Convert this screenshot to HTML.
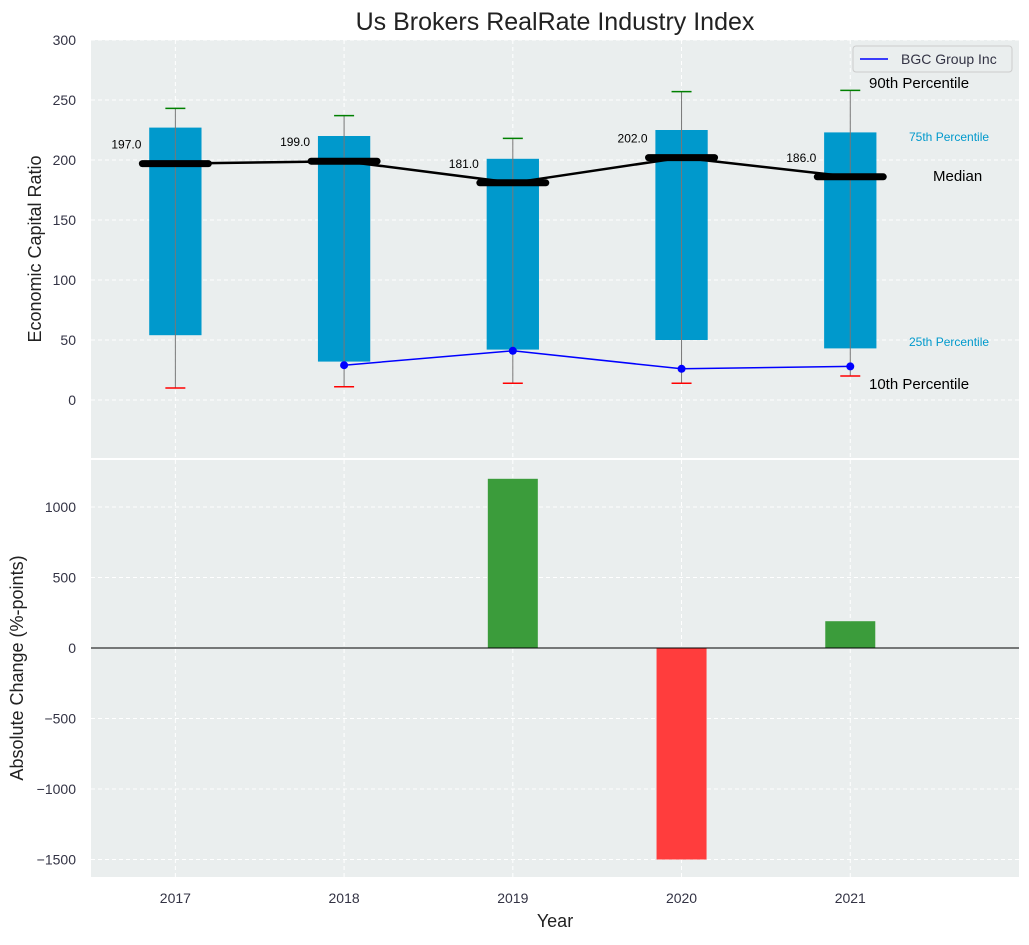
<!DOCTYPE html>
<html><head><meta charset="utf-8"><style>
body{margin:0;background:#fff;font-family:"Liberation Sans",sans-serif}
</style></head><body>
<svg id="c" width="1029" height="940" xmlns="http://www.w3.org/2000/svg" font-family="Liberation Sans, sans-serif"></svg>
<script>
const years=[2017,2018,2019,2020,2021];
const p10=[10,11,14,14,20];
const p25=[54,32,42,50,43];
const p75=[227,220,201,225,223];
const p90=[243,237,218,257,258];
const median=[197,199,181,202,186];
const bgcYears=[2018,2019,2020,2021];
const bgc=[29,41,26,28];
const changes=[0,0,1200,-1500,190];
const topTicks=[0,50,100,150,200,250,300];
const botTicks=[-1500,-1000,-500,0,500,1000];

const NS="http://www.w3.org/2000/svg";
const svg=document.getElementById('c');
function el(t,a,txt){const e=document.createElementNS(NS,t);for(const k in a)e.setAttribute(k,a[k]);if(txt!==undefined)e.textContent=txt;svg.appendChild(e);return e;}
const L=91,R=1019;
const x=v=>L+(v-2016.5)/(5.5)*(R-L);
const T0=40,T1=458; const yT=v=>400-v*1.2;
const B0=460,B1=877; const yB=v=>648-v*0.141;
const TC='#334';

let e;
e=el('rect',{x:L,y:T0,width:R-L,height:T1-T0,fill:'#eaeeee'});

e=el('rect',{x:L,y:B0,width:R-L,height:B1-B0,fill:'#eaeeee'});

years.forEach(yr=>{
 e=el('line',{x1:x(yr),x2:x(yr),y1:T0,y2:T1,stroke:'#fff','stroke-dasharray':'4,3'});
 
 e=el('line',{x1:x(yr),x2:x(yr),y1:B0,y2:B1,stroke:'#fff','stroke-dasharray':'4,3'});
 
 e=el('text',{x:x(yr),y:903,'text-anchor':'middle','font-size':14,fill:TC},yr);
 
});
topTicks.forEach(t=>{
 e=el('line',{x1:L,x2:R,y1:yT(t),y2:yT(t),stroke:'#fff','stroke-dasharray':'4,3'});
 
 e=el('text',{x:76,y:yT(t)+5,'text-anchor':'end','font-size':14,fill:TC},t);
 
});
botTicks.forEach(t=>{
 e=el('line',{x1:L,x2:R,y1:yB(t),y2:yB(t),stroke:'#fff','stroke-dasharray':'4,3'});
 
 e=el('text',{x:76,y:yB(t)+5,'text-anchor':'end','font-size':14,fill:TC},t<0?'\u2212'+(-t):t);
 
});
const bw=(R-L)/5.5*0.31;
years.forEach((yr,i)=>{
 const cx=x(yr);
 e=el('rect',{x:cx-bw/2,y:yT(p75[i]),width:bw,height:yT(p25[i])-yT(p75[i]),fill:'#0099cc'});
 
 e=el('line',{x1:cx,x2:cx,y1:yT(p90[i]),y2:yT(p10[i]),stroke:'#777','stroke-width':1});
 
 e=el('line',{x1:cx-10,x2:cx+10,y1:yT(p90[i]),y2:yT(p90[i]),stroke:'green','stroke-width':1.5});
 
 e=el('line',{x1:cx-10,x2:cx+10,y1:yT(p10[i]),y2:yT(p10[i]),stroke:'red','stroke-width':1.5});
 
});
e=el('polyline',{points:years.map((yr,i)=>x(yr)+','+yT(median[i])).join(' '),fill:'none',stroke:'#000','stroke-width':2.5});

years.forEach((yr,i)=>{
 const cx=x(yr);
 e=el('line',{x1:cx-33,x2:cx+33,y1:yT(median[i]),y2:yT(median[i]),stroke:'#000','stroke-width':7,'stroke-linecap':'round'});
 
 e=el('text',{x:cx-49,y:yT(median[i])-15,'text-anchor':'middle','font-size':12,fill:'#000'},median[i].toFixed(1));
 
});
e=el('polyline',{points:bgcYears.map((yr,i)=>x(yr)+','+yT(bgc[i])).join(' '),fill:'none',stroke:'blue','stroke-width':1.5});

bgcYears.forEach((yr,i)=>{
 e=el('circle',{cx:x(yr),cy:yT(bgc[i]),r:4,fill:'blue'});
 
});
const ann=[['90th Percentile',869,88,15,'#000'],['75th Percentile',909,141,12,'#0099cc'],['Median',933,181,15,'#000'],['25th Percentile',909,346,12,'#0099cc'],['10th Percentile',869,389,15,'#000']];
ann.forEach(a=>{e=el('text',{x:a[1],y:a[2],'font-size':a[3],fill:a[4]},a[0]);
 });
e=el('rect',{x:853,y:46,width:159,height:26,fill:'#eaeeee',stroke:'#ccc',rx:3});

e=el('line',{x1:860,x2:888,y1:59,y2:59,stroke:'blue','stroke-width':1.5});

e=el('text',{x:901,y:64,'font-size':14,fill:TC},'BGC Group Inc');

years.forEach((yr,i)=>{
 const v=changes[i]; if(v===0)return;
 e=el('rect',{x:x(yr)-25,y:Math.min(yB(v),yB(0)),width:50,height:Math.abs(yB(v)-yB(0)),fill:v>0?'#3b9c3b':'#ff3d3d'});
 
});
e=el('line',{x1:L,x2:R,y1:yB(0),y2:yB(0),stroke:'#000','stroke-width':1});

e=el('text',{x:555,y:30,'text-anchor':'middle','font-size':25,fill:'#222'},'Us Brokers RealRate Industry Index');

e=el('text',{x:555,y:927,'text-anchor':'middle','font-size':18,fill:'#222'},'Year');

e=el('text',{x:0,y:0,'text-anchor':'middle','font-size':18,fill:'#222',transform:'translate(41,249) rotate(-90)'},'Economic Capital Ratio');

e=el('text',{x:0,y:0,'text-anchor':'middle','font-size':18,fill:'#222',transform:'translate(23,668) rotate(-90)'},'Absolute Change (%-points)');

</script>
</body></html>
